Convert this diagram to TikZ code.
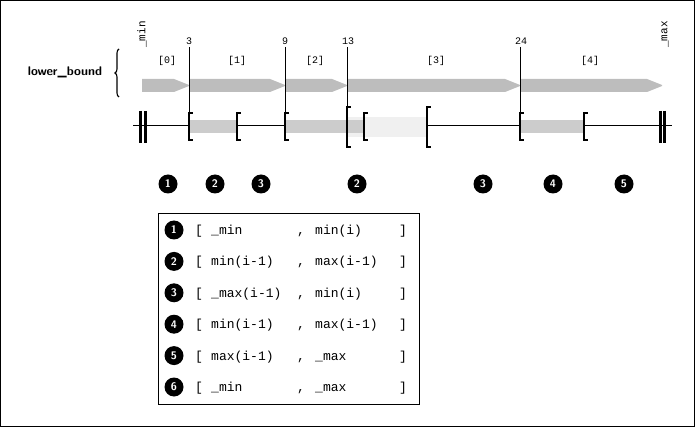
\documentclass[tikz,border=0pt]{standalone}
\usepackage{fontspec}
\setmainfont{Liberation Sans}
\setmonofont{Liberation Mono}
\usetikzlibrary{decorations.pathreplacing}
\newcommand\brkt[3]{\draw[brkline] (#1+3.5,#2) -- (#1,#2) -- (#1,#3) -- (#1+3.5,#3);}
\newcommand\garrow[2]{\fill[arrowgray] (#1,79) -- (#2-15,79) -- (#2,85) -- (#2,86) -- (#2-15,92) -- (#1,92) -- cycle;}
\begin{document}
\begin{tikzpicture}[x=1pt,y=-1pt,
  tickline/.style={line width=1pt},
  brkline/.style={line width=2.5pt},
  barline/.style={line width=2.6pt},
  arrowgray/.style={fill=black!26},
  darkband/.style={fill=black!20},
  lightband/.style={fill=black!6},
  num/.style={circle,fill=black,text=white,font=\sffamily\bfseries\fontsize{11}{11}\selectfont,inner sep=0pt,minimum size=19pt},
  ticklab/.style={font=\ttfamily\fontsize{10}{10}\selectfont,inner sep=1pt},
  rot/.style={font=\ttfamily\fontsize{11}{11}\selectfont,inner sep=0pt,rotate=90,anchor=west},
  mono/.style={font=\ttfamily\fontsize{13}{13}\selectfont,inner sep=0pt,anchor=base west}]
\useasboundingbox (0,0) rectangle (695,427);
\draw[line width=1pt] (0.5,0.5) rectangle (694.5,426.5);

% labels on top
\node[rot] (tmin) at (142,48) {\_min};
\node[rot] (tmax) at (665,48) {\_max};
\node[ticklab] (t3) at (189,41) {3};
\node[ticklab] (t9) at (285,41) {9};
\node[ticklab] (t13) at (348,41) {13};
\node[ticklab] (t24) at (521,41) {24};
\node[ticklab] (i0) at (167,61) {[0]};
\node[ticklab] (i1) at (237,61) {[1]};
\node[ticklab] (i2) at (315,61) {[2]};
\node[ticklab] (i3) at (436,61) {[3]};
\node[ticklab] (i4) at (590,61) {[4]};
\node[font=\sffamily\bfseries\fontsize{12.5}{12.5}\selectfont,inner sep=0pt] (lb) at (65,72) {lower\_bound};
\draw[line width=1.1pt,decorate,decoration={brace,amplitude=4pt}] (119,97) -- (119,49);

% gray arrows
\garrow{142}{189}
\garrow{189}{285}
\garrow{285}{347}
\garrow{347}{520}
\garrow{520}{662}

% number line
\coordinate (lstart) at (133,126);
\coordinate (lend) at (672,126);
\draw[line width=1pt] (lstart) -- (lend);

% bands
\fill[lightband] (347,117) rectangle (427,137);
\fill[darkband] (189,120) rectangle (237,133);
\fill[darkband] (285,120) rectangle (364,133);
\fill[darkband] (520,120) rectangle (584,133);

% tick lines
\coordinate (b3) at (189,113);
\coordinate (b9) at (285,113);
\coordinate (b13) at (347,107);
\coordinate (b24) at (520,113);
\draw[tickline] (189,47) -- (b3);
\draw[tickline] (285,47) -- (b9);
\draw[tickline] (347,47) -- (b13);
\draw[tickline] (520,47) -- (b24);

% brackets
\brkt{189}{113}{140}
\brkt{237}{113}{140}
\brkt{285}{113}{140}
\brkt{347}{107}{147}
\brkt{364}{113}{140}
\brkt{427}{107}{147}
\brkt{520}{113}{140}
\brkt{584}{113}{140}

% double bars
\draw[barline] (140.5,111) -- (140.5,143);
\draw[barline] (145.5,111) -- (145.5,143);
\draw[barline] (660.5,111) -- (660.5,143);
\draw[barline] (664.5,111) -- (664.5,143);

% circled numbers
\node[num] (c1) at (168,184) {1};
\node[num] (c2) at (215,184) {2};
\node[num] (c3) at (261,184) {3};
\node[num] (c2b) at (357,184) {2};
\node[num] (c3b) at (483,184) {3};
\node[num] (c4) at (553,184) {4};
\node[num] (c5) at (624,184) {5};

% table
\draw[line width=1pt] (158,214) rectangle (419,404);
\foreach \k/\n/\a/\b in {0/1/{\_min}/{min(i)},
                         1/2/{min(i-1)}/{max(i-1)},
                         2/3/{\_max(i-1)}/{min(i)},
                         3/4/{min(i-1)}/{max(i-1)},
                         4/5/{max(i-1)}/{\_max},
                         5/6/{\_min}/{\_max}} {
  \pgfmathsetmacro\yy{230+31.4*\k}
  \pgfmathsetmacro\yb{\yy+4.5}
  \node[num] (r\n) at (174,\yy) {\n};
  \node[mono] (ro\n) at (195,\yb) {[};
  \node[mono] (ra\n) at (211,\yb) {\a};
  \node[mono] (rc\n) at (297,\yb) {,};
  \node[mono] (rb\n) at (315,\yb) {\b};
  \node[mono] (rd\n) at (399,\yb) {]};
}
\end{tikzpicture}
\end{document}
